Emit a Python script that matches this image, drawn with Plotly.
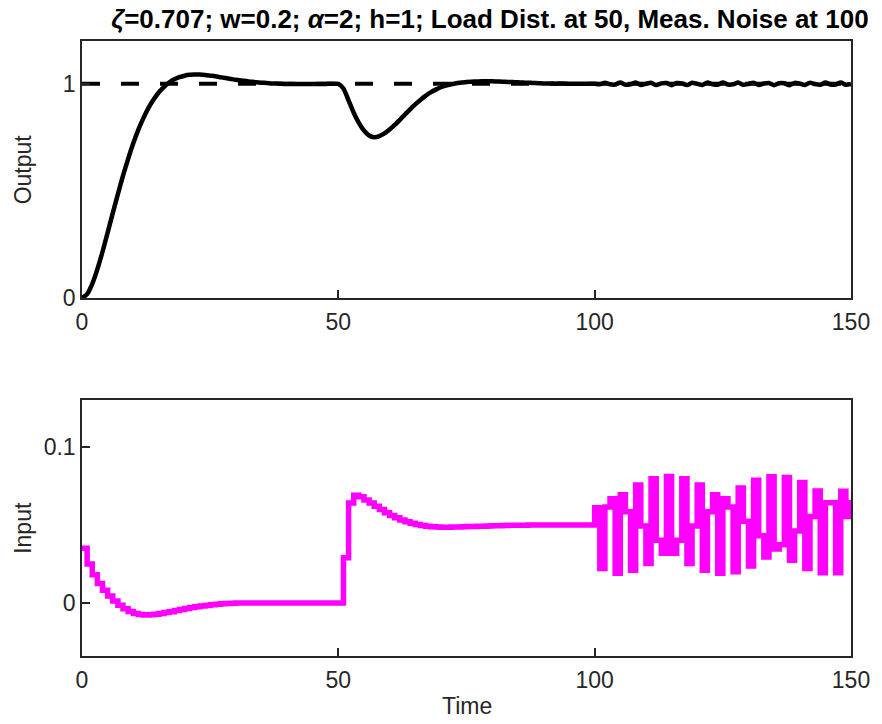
import plotly.graph_objects as go

# ---------------- data ----------------
time = list(range(0, 151))

output = [
    0.000, 0.018, 0.066, 0.135, 0.216, 0.305, 0.396, 0.485, 0.571, 0.650,
    0.722, 0.786, 0.841, 0.889, 0.928, 0.961, 0.986, 1.006, 1.021, 1.031,
    1.038, 1.042, 1.043, 1.043, 1.041, 1.038, 1.035, 1.031, 1.027, 1.023,
    1.019, 1.016, 1.013, 1.010, 1.007, 1.005, 1.004, 1.002, 1.001, 1.000,
    0.999, 0.999, 0.999, 0.999, 0.999, 0.999, 0.999, 0.999, 1.000, 1.000,
    1.000, 0.978, 0.922, 0.865, 0.818, 0.782, 0.759, 0.751, 0.756, 0.769,
    0.787, 0.808, 0.832, 0.857, 0.881, 0.904, 0.925, 0.944, 0.960, 0.973,
    0.984, 0.992, 0.998, 1.003, 1.006, 1.009, 1.010, 1.011, 1.012, 1.012,
    1.012, 1.011, 1.010, 1.009, 1.008, 1.007, 1.006, 1.005, 1.004, 1.003,
    1.002, 1.002, 1.001, 1.001, 1.001, 1.000, 1.000, 1.000, 1.000, 1.000,
    1.000, 0.9978, 1.0056, 0.9977, 0.9966, 1.0062, 0.9961, 0.9983, 1.0058, 0.9949,
    1.0001, 1.0049, 0.9941, 1.0020, 1.0036, 0.9938, 1.0036, 1.0020, 0.9941, 1.0049,
    1.0001, 0.9949, 1.0058, 0.9983, 0.9961, 1.0062, 0.9966, 0.9977, 1.0060, 0.9953,
    0.9995, 1.0053, 0.9943, 1.0014, 1.0041, 0.9938, 1.0031, 1.0026, 0.9939, 1.0045,
    1.0008, 0.9946, 1.0056, 0.9989, 0.9957, 1.0061, 0.9972, 0.9972, 1.0061, 0.9957,
    0.9989,
]

control_input = [
    0.0350, 0.0250, 0.0180, 0.0125, 0.0082, 0.0045, 0.0013, -0.0015, -0.0037, -0.0055,
    -0.0067, -0.0074, -0.0077, -0.0076, -0.0073, -0.0068, -0.0062, -0.0056, -0.0049, -0.0042,
    -0.0036, -0.0030, -0.0025, -0.0020, -0.0016, -0.0012, -0.0009, -0.0006, -0.0004, -0.0002,
    -0.0001, 0.0000, 0.0000, 0.0000, 0.0000, 0.0000, 0.0000, 0.0000, 0.0000, 0.0000,
    0.0000, 0.0000, 0.0000, 0.0000, 0.0000, 0.0000, 0.0000, 0.0000, 0.0000, 0.0000,
    0.0000, 0.0290, 0.0640, 0.0690, 0.0680, 0.0660, 0.0640, 0.0620, 0.0598, 0.0578,
    0.0560, 0.0545, 0.0532, 0.0520, 0.0510, 0.0502, 0.0496, 0.0491, 0.0488, 0.0486,
    0.0485, 0.0485, 0.0486, 0.0487, 0.0488, 0.0489, 0.0490, 0.0491, 0.0492, 0.0493,
    0.0494, 0.0495, 0.0496, 0.0497, 0.0497, 0.0498, 0.0498, 0.0499, 0.0499, 0.0500,
    0.0500, 0.0500, 0.0500, 0.0500, 0.0500, 0.0500, 0.0500, 0.0500, 0.0500, 0.0500,
    0.0610, 0.0220, 0.0614, 0.0668, 0.0190, 0.0693, 0.0584, 0.0209, 0.0756, 0.0493,
    0.0253, 0.0796, 0.0401, 0.0319, 0.0810, 0.0319, 0.0401, 0.0796, 0.0253, 0.0493,
    0.0756, 0.0209, 0.0584, 0.0693, 0.0190, 0.0668, 0.0614, 0.0200, 0.0737, 0.0524,
    0.0236, 0.0786, 0.0431, 0.0295, 0.0808, 0.0345, 0.0372, 0.0804, 0.0273, 0.0461,
    0.0772, 0.0221, 0.0553, 0.0717, 0.0194, 0.0641, 0.0642, 0.0193, 0.0716, 0.0554,
    0.0660,
]

reference_time = [0, 150]
reference_value = [1, 1]

x_ticks = [0, 50, 100, 150]
out_ticks = [0, 1]
in_ticks = [0, 0.1]
in_tick_text = ["0", "0.1"]

title_text = ("<b><i>ζ</i>=0.707; w=0.2; <i>α</i>=2; h=1; "
              "Load Dist. at 50, Meas. Noise at 100</b>")

# ---------------- figure ----------------
W, H = 882, 724
ML, MR, MT, MB = 82, 20, 41, 68
plot_w = W - ML - MR
plot_h = H - MT - MB
top_lo = (H - MB - 298) / plot_h
bot_hi = (H - MB - 400) / plot_h

AX = "#262626"
FONT = "Liberation Sans, Arial, Helvetica, sans-serif"
FS = 23

fig = go.Figure()
fig.add_trace(go.Scatter(x=time, y=output, mode="lines",
                         line=dict(color="black", width=4.5, shape="spline", smoothing=0.6),
                         xaxis="x", yaxis="y", showlegend=False))
fig.add_trace(go.Scatter(x=reference_time, y=reference_value, mode="lines",
                         line=dict(color="black", width=4, dash="18px,21px"),
                         xaxis="x", yaxis="y", showlegend=False))
fig.add_trace(go.Scatter(x=time, y=control_input, mode="lines",
                         line=dict(color="#FF00FF", width=5.5, shape="hv"),
                         xaxis="x2", yaxis="y2", showlegend=False))

axis_common = dict(showline=True, mirror=True, linecolor=AX, linewidth=1.5,
                   ticks="inside", ticklen=8, tickwidth=1.5, tickcolor=AX,
                   showgrid=False, zeroline=False,
                   tickfont=dict(family=FONT, size=FS, color=AX))

fig.update_layout(
    width=W, height=H,
    margin=dict(l=ML, r=MR, t=MT, b=MB),
    plot_bgcolor="white", paper_bgcolor="white",
    xaxis=dict(domain=[0, 1], range=[0, 150], anchor="y", tickvals=x_ticks,
               ticklabelstandoff=3, **axis_common),
    yaxis=dict(domain=[top_lo, 1], range=[0, 1.2], anchor="x", tickvals=out_ticks,
               ticklabelstandoff=0, **axis_common),
    xaxis2=dict(domain=[0, 1], range=[0, 150], anchor="y2", tickvals=x_ticks,
                ticklabelstandoff=3, **axis_common),
    yaxis2=dict(domain=[0, bot_hi], range=[-0.034, 0.130], anchor="x2",
                tickvals=in_ticks, ticktext=in_tick_text,
                ticklabelstandoff=0, **axis_common),
    title=dict(text=title_text, x=490 / W, xanchor="center", xref="container",
               y=1 - 19 / H, yanchor="middle", yref="container",
               font=dict(family=FONT, size=26, color="black")),
    annotations=[
        dict(text="Output", xref="paper", yref="paper",
             x=(22 - ML) / plot_w, y=(H - MB - 169.5) / plot_h,
             showarrow=False, textangle=-90, xanchor="center", yanchor="middle",
             font=dict(family=FONT, size=FS, color=AX)),
        dict(text="Input", xref="paper", yref="paper",
             x=(22 - ML) / plot_w, y=(H - MB - 528) / plot_h,
             showarrow=False, textangle=-90, xanchor="center", yanchor="middle",
             font=dict(family=FONT, size=FS, color=AX)),
        dict(text="Time", xref="paper", yref="paper",
             x=0.5, y=(H - MB - 706) / plot_h,
             showarrow=False, xanchor="center", yanchor="middle",
             font=dict(family=FONT, size=FS, color=AX)),
    ],
)

fig.write_html("out.html")
